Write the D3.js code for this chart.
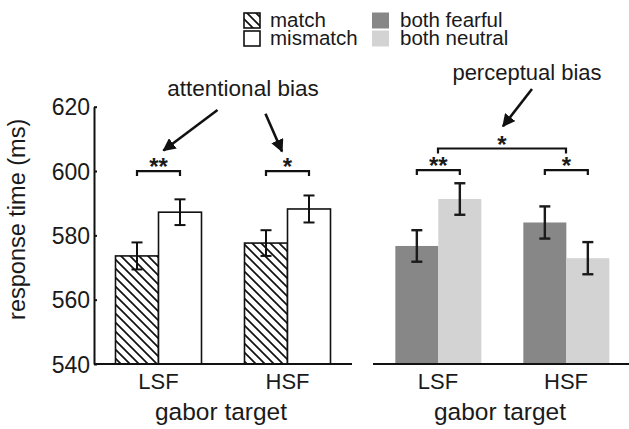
<!DOCTYPE html>
<html><head><meta charset="utf-8">
<script src="https://cdn.jsdelivr.net/npm/d3@7"></script>
<style>
html,body{margin:0;padding:0;background:#fff;}
svg{display:block;}
text{font-family:"Liberation Sans",Arial,sans-serif;fill:#1a1a1a;}
</style></head>
<body>
<script>
// ---- data ----
const categories = ["LSF", "HSF"];
const yTicks = [540, 560, 580, 600, 620];
const matchValues = [573.6, 577.6];
const matchErr = [4.2, 4.0];
const mismatchValues = [587.2, 588.2];
const mismatchErr = [4.0, 4.2];
const fearfulValues = [576.7, 584.0];
const fearfulErr = [4.9, 5.0];
const neutralValues = [591.3, 572.9];
const neutralErr = [4.9, 5.0];
const legendLeft = ["match", "mismatch"];
const legendRight = ["both fearful", "both neutral"];
const leftSig = [{cat: "LSF", level: 600, label: "**"}, {cat: "HSF", level: 600, label: "*"}];
const rightSig = [{cat: "LSF", level: 600.3, label: "**"}, {cat: "HSF", level: 600.3, label: "*"}];
const rightMainSig = {level: 607, label: "*"};

const W = 629, H = 429;
const svg = d3.select("body").append("svg").attr("width", W).attr("height", H);
const defs = svg.append("defs");
const pat = defs.append("pattern").attr("id", "hatch").attr("patternUnits", "userSpaceOnUse")
  .attr("width", 9).attr("height", 9);
pat.append("rect").attr("width", 9).attr("height", 9).attr("fill", "#fff");
pat.append("path").attr("d", "M0,0L9,9M-3,6L3,12M6,-3L12,3").attr("stroke", "#111").attr("stroke-width", 1.7);

const mk = defs.append("marker").attr("id", "arr").attr("viewBox", "0 0 10 10")
  .attr("refX", 9).attr("refY", 5).attr("markerWidth", 5).attr("markerHeight", 5)
  .attr("orient", "auto").attr("markerUnits", "strokeWidth");
mk.append("path").attr("d", "M0,0L10,5L0,10z").attr("fill", "#111");

const y = d3.scaleLinear().domain([540, 620]).range([364, 106.7]);
const xL = d3.scaleBand().domain(categories).range([94, 352]).paddingInner(1/3).paddingOuter(1/6);
const xR = d3.scaleBand().domain(categories).range([374, 630]).paddingInner(1/3).paddingOuter(1/6);
const sub = d3.scaleBand().domain([0, 1]).range([0, xL.bandwidth()]);

const FONT = "Liberation Sans, Arial, sans-serif";

// ---- left axis ----
const ax = svg.append("g").attr("transform", "translate(94,0)")
  .call(d3.axisLeft(y).tickValues(yTicks).tickSizeInner(-3).tickSizeOuter(0).tickPadding(4));
ax.select(".domain").attr("stroke", "#111").attr("stroke-width", 2);
ax.selectAll(".tick line").attr("stroke", "#111").attr("stroke-width", 2);
ax.selectAll(".tick text").attr("font-size", 23).attr("font-family", FONT).attr("fill", "#1a1a1a").attr("dy", "0.36em");

svg.append("text").attr("transform", "translate(25," + ((y(540) + y(620)) / 2 - 16) + ") rotate(-90)")
  .attr("text-anchor", "middle").attr("font-size", 23.5).text("response time (ms)");

// ---- bars ----
function drawBars(x, vals, errs, idx, fill, stroke, ecol, ew) {
  const g = svg.append("g");
  g.selectAll("rect").data(categories).join("rect")
    .attr("x", d => x(d) + sub(idx)).attr("width", sub.bandwidth())
    .attr("y", (d, i) => y(vals[i])).attr("height", (d, i) => y(540) - y(vals[i]))
    .attr("fill", fill).attr("stroke", stroke).attr("stroke-width", stroke === "none" ? 0 : 1.6);
  const eg = g.selectAll("g.err").data(categories).join("g").attr("class", "err");
  const cx = d => x(d) + sub(idx) + sub.bandwidth() / 2;
  eg.append("line").attr("x1", cx).attr("x2", cx)
    .attr("y1", (d, i) => y(vals[i] - errs[i])).attr("y2", (d, i) => y(vals[i] + errs[i]))
    .attr("stroke", ecol).attr("stroke-width", ew);
  [-1, 1].forEach(s => {
    eg.append("line").attr("x1", d => cx(d) - 5.5).attr("x2", d => cx(d) + 5.5)
      .attr("y1", (d, i) => y(vals[i] + s * errs[i])).attr("y2", (d, i) => y(vals[i] + s * errs[i]))
      .attr("stroke", ecol).attr("stroke-width", ew);
  });
}
drawBars(xL, matchValues, matchErr, 0, "url(#hatch)", "#111", "#111", 2);
drawBars(xL, mismatchValues, mismatchErr, 1, "#fff", "#111", "#111", 2);
drawBars(xR, fearfulValues, fearfulErr, 0, "#878787", "none", "#1a1a1a", 2.4);
drawBars(xR, neutralValues, neutralErr, 1, "#d3d3d3", "none", "#1a1a1a", 2.4);

// baselines
svg.append("line").attr("x1", 94).attr("x2", 352).attr("y1", y(540)).attr("y2", y(540)).attr("stroke", "#111").attr("stroke-width", 2);
svg.append("line").attr("x1", 373).attr("x2", 629).attr("y1", y(540)).attr("y2", y(540)).attr("stroke", "#111").attr("stroke-width", 2);

// category labels
[xL, xR].forEach(x => {
  svg.append("g").selectAll("text").data(categories).join("text")
    .attr("x", d => x(d) + x.bandwidth() / 2).attr("y", 389)
    .attr("text-anchor", "middle").attr("font-size", 22).text(d => d);
  svg.append("text").attr("x", (x.range()[0] + x.range()[1]) / 2 - 2).attr("y", 420)
    .attr("text-anchor", "middle").attr("font-size", 24.5).text("gabor target");
});

// ---- significance brackets ----
function bracket(x1, x2, yy, label, leg) {
  svg.append("path").attr("d", `M${x1},${yy + leg}V${yy}H${x2}V${yy + leg}`)
    .attr("fill", "none").attr("stroke", "#111").attr("stroke-width", 2.2);
  svg.append("text").attr("x", (x1 + x2) / 2).attr("y", yy + 4).attr("text-anchor", "middle")
    .attr("font-size", 24).attr("font-weight", "bold").text(label);
}
const c0 = sub(0) + sub.bandwidth() / 2, c1 = sub(1) + sub.bandwidth() / 2;
leftSig.forEach(s => bracket(xL(s.cat) + c0, xL(s.cat) + c1, y(s.level), s.label, 5));
rightSig.forEach(s => bracket(xR(s.cat) + c0, xR(s.cat) + c1, y(s.level), s.label, 5));
const midR = (xR("LSF") + xR("HSF") + xR.bandwidth()) / 2;
bracket(xR("LSF") + xR.bandwidth() / 2, xR("HSF") + xR.bandwidth() / 2, y(rightMainSig.level), rightMainSig.label, 5);

// ---- annotations ----
const midL = (xL("LSF") + xL("HSF") + xL.bandwidth()) / 2;
svg.append("text").attr("x", midL + 20).attr("y", y(623.4)).attr("text-anchor", "middle")
  .attr("font-size", 22.5).text("attentional bias");
svg.append("text").attr("x", midR + 25).attr("y", y(628.4)).attr("text-anchor", "middle")
  .attr("font-size", 22).text("perceptual bias");
function arrow(x1, y1, x2, y2) {
  svg.append("line").attr("x1", x1).attr("y1", y1).attr("x2", x2).attr("y2", y2)
    .attr("stroke", "#111").attr("stroke-width", 2.6).attr("marker-end", "url(#arr)");
}
const lc = xL("LSF") + xL.bandwidth() / 2, hc = xL("HSF") + xL.bandwidth() / 2;
arrow(lc + 59, y(619), lc + 5, y(606.4));
arrow(hc - 22, y(617.8), hc - 5.5, y(606.1));
arrow(midR + 30, y(625.5), midR + 1, y(613.9));

// ---- legend ----
const lg = svg.append("g");
[["url(#hatch)", "#111"], ["#fff", "#111"]].forEach((f, i) => {
  lg.append("rect").attr("x", 244).attr("y", 13 + i * 18).attr("width", 16).attr("height", 15)
    .attr("fill", f[0]).attr("stroke", f[1]).attr("stroke-width", 1.6);
  lg.append("text").attr("x", 270).attr("y", 26.5 + i * 18.5).attr("font-size", 20.5).text(legendLeft[i]);
});
["#878787", "#d3d3d3"].forEach((f, i) => {
  lg.append("rect").attr("x", 372).attr("y", 12.5 + i * 18).attr("width", 17).attr("height", 16).attr("fill", f);
  lg.append("text").attr("x", 400).attr("y", 26.5 + i * 18.5).attr("font-size", 20.5).text(legendRight[i]);
});
</script>
</body></html>
